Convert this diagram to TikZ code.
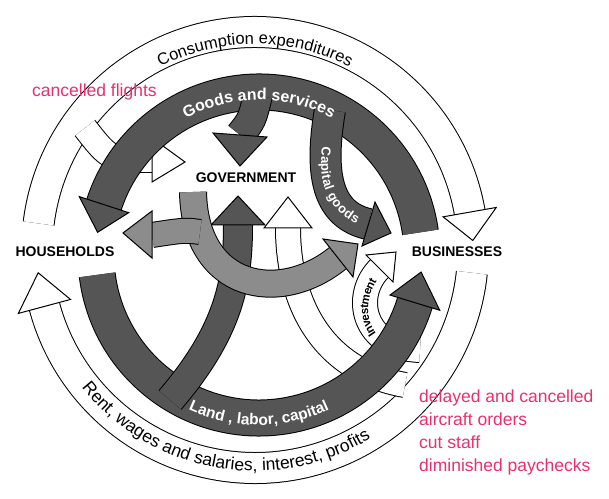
\documentclass[tikz,border=0pt]{standalone}
\usepackage{fontspec}
\setmainfont{Liberation Sans}
\usetikzlibrary{calc,decorations.text}
\definecolor{dk}{HTML}{555555}
\definecolor{md}{HTML}{8C8C8C}
\definecolor{pk}{HTML}{E8306E}
\newcommand\p[2]{(#1,{498-#2})}
\newcommand\band[3]{\draw[line width={#2pt+2pt}] #1; \draw[line width=#2pt, draw=#3] #1;}
% ring arrow: center, r, w, a1, a2, h, color, head half width
\newcommand\ringarrow[8]{%
  \draw[line width={#3pt+2pt}] ($(#1)+(#4:#2)$) arc[start angle=#4, end angle=#5, radius=#2];
  \draw[line width=#3pt, draw=#7] ($(#1)+(#4:#2)$) arc[start angle=#4, end angle=#5, radius=#2];
  \filldraw[fill=#7, line width=1pt] ($(#1)+(#5:{#2-#8})$) -- ($(#1)+({#5+#6}:#2)$) -- ($(#1)+(#5:{#2+#8})$) -- cycle;}
\tikzset{lab/.style={font=\bfseries\fontsize{14}{16}\selectfont},
  pink/.style={text=pk, font=\fontsize{17.5}{23}\selectfont, align=left, anchor=north west, inner sep=0pt},
  head/.style={line width=1pt}}
\begin{document}
\begin{tikzpicture}[x=1pt,y=1pt]
\useasboundingbox (0,0) rectangle (609,498);
\coordinate (O) at (255,248);
\coordinate (D) at (259,243);
% outer white rings
\ringarrow{O}{218}{30}{173}{10}{-7.5}{white}{27}
\ringarrow{O}{218}{30}{-6}{-165}{-9}{white}{27}
% white branch to government
\band{\p{85}{128} .. controls \p{110}{160} .. \p{152}{160}}{24}{white}
\filldraw[fill=white,head] \p{152}{138} -- \p{185}{162} -- \p{152}{182} -- cycle;
% white up arrow
\band{\p{405}{385} .. controls \p{320}{370} and \p{288}{300} .. \p{288}{228}}{24}{white}
\filldraw[fill=white,head] \p{264}{228} -- \p{288}{197} -- \p{312}{228} -- cycle;
% investment
\band{\p{420}{350} .. controls \p{362}{348} and \p{352}{295} .. \p{380}{268}}{24}{white}
\filldraw[fill=white,head] \p{393}{282} -- \p{396}{252} -- \p{366}{255} -- cycle;
\path[decorate, decoration={text along path, text align=center, raise=-4pt,
  text={|\bfseries\fontsize{11.5}{12}\selectfont|Investment}}]
  \p{390}{350} .. controls \p{360}{335} and \p{352}{295} .. \p{388}{262};
% dark rings
\ringarrow{D}{163}{35}{8}{162}{10}{dk}{26}
\ringarrow{D}{163}{35}{187}{343}{11}{dk}{26}
% dark down arrow to government
\band{\p{258}{95} .. controls \p{252}{120} .. \p{240}{135}}{28}{dk}
\filldraw[fill=dk,head] \p{213}{133} -- \p{240}{166} -- \p{267}{137} -- cycle;
% capital goods
\band{\p{330}{110} .. controls \p{318}{180} and \p{330}{215} .. \p{368}{224}}{30}{dk}
\filldraw[fill=dk,head] \p{362}{246} -- \p{391}{233} -- \p{375}{202} -- cycle;
\path[decorate, decoration={text along path, text align=center, raise=-4.5pt,
  text={|\color{white}\bfseries\fontsize{13}{14}\selectfont|Capital goods}}]
  \p{330}{130} .. controls \p{318}{180} and \p{330}{215} .. \p{375}{225};
% dark up arrow
\band{\p{170}{400} .. controls \p{230}{330} and \p{238}{280} .. \p{238}{225}}{28}{dk}
\filldraw[fill=dk,head] \p{211}{225} -- \p{238}{196} -- \p{265}{225} -- cycle;
% gray arrow
\band{\p{193}{192} .. controls \p{195}{290} and \p{280}{305} .. \p{338}{258}}{26}{md}
\filldraw[fill=md,head] \p{353}{277} -- \p{358}{244} -- \p{323}{239} -- cycle;
\band{\p{200}{232} .. controls \p{185}{230} .. \p{152}{235}}{24}{md}
\filldraw[fill=md,head] \p{152}{211} -- \p{123}{233} -- \p{152}{258} -- cycle;
% curved texts
\path[decorate, decoration={text along path, text align=center,
  text={|\fontsize{16.5}{17}\selectfont|Consumption expenditures}}]
  ($(O)+(125:206)$) arc[start angle=125, end angle=55, radius=206];
\path[decorate, decoration={text along path, text align=center,
  text={|\fontsize{17.5}{18}\selectfont|Rent, wages and salaries, interest, profits}}]
  ($(O)+(200:221)$) arc[start angle=200, end angle=320, radius=221];
\path[decorate, decoration={text along path, text align=center,
  text={|\color{white}\bfseries\fontsize{16}{17}\selectfont|Goods and services}}]
  ($(D)+(130:155)$) arc[start angle=130, end angle=50, radius=155];
\path[decorate, decoration={text along path, text align=center,
  text={|\color{white}\bfseries\fontsize{15.5}{17}\selectfont|Land , labor, capital}}]
  ($(D)+(235:170)$) arc[start angle=235, end angle=305, radius=170];
% labels
\node[lab] (hh) at \p{65}{252} {HOUSEHOLDS};
\node[lab] (gov) at \p{246}{178} {GOVERNMENT};
\node[lab] (bus) at \p{457}{252} {BUSINESSES};
\node[pink] (cf) at \p{32}{84} {cancelled flights};
\node[pink] (dl) at \p{419}{390} {delayed and cancelled\\aircraft orders\\cut staff\\diminished paychecks};
\end{tikzpicture}
\end{document}
